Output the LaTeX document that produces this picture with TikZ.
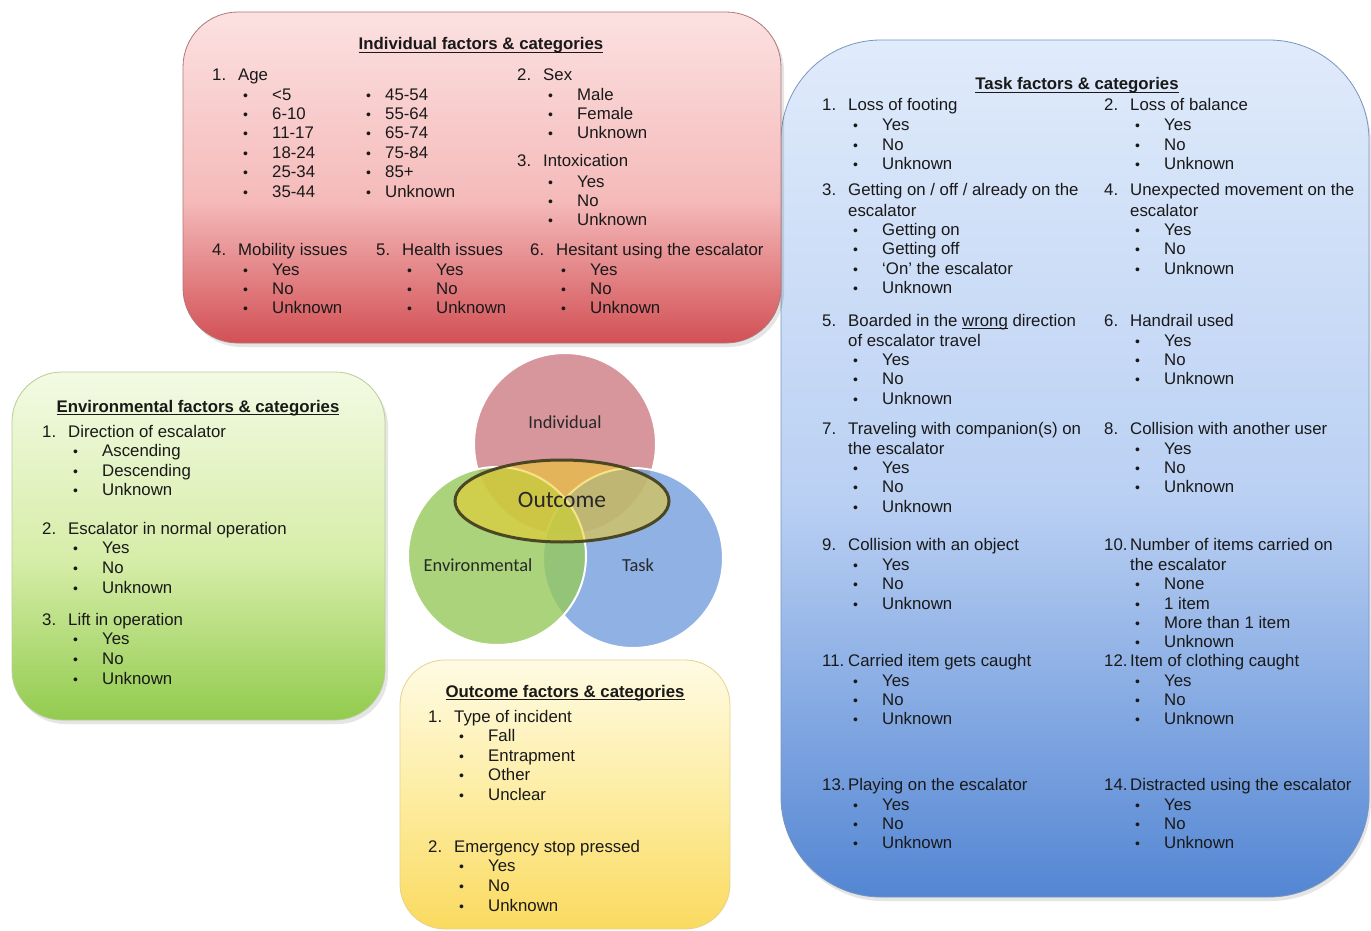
\documentclass[tikz,border=0pt]{standalone}
\usepackage{fontspec}
\setmainfont{Liberation Sans}
\newfontfamily\vennfont{Carlito}
\definecolor{txtc}{RGB}{25,25,25}
\definecolor{rT}{RGB}{252,225,225}
\definecolor{rM}{RGB}{245,186,186}
\definecolor{rB}{RGB}{210,80,85}
\definecolor{rL}{RGB}{175,120,120}
\definecolor{bT}{RGB}{224,235,251}
\definecolor{bM}{RGB}{186,208,243}
\definecolor{bB}{RGB}{84,134,211}
\definecolor{bL}{RGB}{120,150,190}
\definecolor{gT}{RGB}{243,250,228}
\definecolor{gM}{RGB}{214,237,168}
\definecolor{gB}{RGB}{146,203,78}
\definecolor{gL}{RGB}{185,205,150}
\definecolor{yT}{RGB}{255,251,228}
\definecolor{yM}{RGB}{253,236,160}
\definecolor{yB}{RGB}{250,218,95}
\definecolor{yL}{RGB}{230,210,140}
\definecolor{vI}{RGB}{205,124,130}
\definecolor{vE}{RGB}{149,201,92}
\definecolor{vT}{RGB}{115,158,220}
\definecolor{vO}{RGB}{240,205,40}
\definecolor{vOl}{RGB}{75,70,35}
\definecolor{vtx}{RGB}{40,40,40}
\newcommand\fs{\fontsize{16.8}{19.3}\selectfont}
\newcommand\bul{{\fontsize{14}{14}\selectfont\textbullet}}
\newcommand\ul[1]{\setbox0\hbox{#1}\rlap{\rule[-2.6pt]{\wd0}{0.9pt}}\box0\relax}
\newcounter{tn}
\newcommand\T[3]{\stepcounter{tn}\node[txt] (t\arabic{tn}) at (#1,#2+6) {#3};}
\newcommand\G[4]{\T{#1}{#2}{#3}\T{#1+26}{#2}{#4}}
\newcommand\B[3]{\T{#1+31}{#2}{\bul}\T{#1+60}{#2}{#3}}
\tikzset{
  txt/.style={anchor=base west, inner sep=0pt, font=\fs, text=txtc},
  ttl/.style={anchor=base, inner sep=0pt, font=\fs\bfseries, text=txtc},
  vlab/.style={inner sep=0pt, font=\vennfont\fontsize{18.4}{20}\selectfont, text=vtx},
  shadow/.style={fill=black, opacity=0.10},
}
\begin{document}
\begin{tikzpicture}[x=1pt,y=-1pt]
\useasboundingbox (0,0) rectangle (1371,931);
\fill[white] (0,0) rectangle (1371,931);

% ---------- Task box (blue)
\fill[shadow, rounded corners=100pt] (783,44) rectangle (1371,901);
\begin{scope}
  \clip[rounded corners=100pt] (781,40) rectangle (1369,897);
  \shade[top color=bT, bottom color=bM] (781,40) rectangle (1369,501);
  \shade[top color=bM, bottom color=bB] (781,500) rectangle (1369,897);
\end{scope}
\draw[bL, line width=0.8pt, rounded corners=100pt] (781,40) rectangle (1369,897);

% ---------- Individual box (red)
\fill[shadow, rounded corners=55pt] (186,16) rectangle (784,347);
\begin{scope}
  \clip[rounded corners=55pt] (183,12) rectangle (781,343);
  \shade[top color=rT, bottom color=rM] (183,12) rectangle (781,201);
  \shade[top color=rM, bottom color=rB] (183,200) rectangle (781,343);
\end{scope}
\draw[rL, line width=0.8pt, rounded corners=55pt] (183,12) rectangle (781,343);

% ---------- Environmental box (green)
\fill[shadow, rounded corners=50pt] (15,376) rectangle (388,724);
\begin{scope}
  \clip[rounded corners=50pt] (12,372) rectangle (385,720);
  \shade[top color=gT, bottom color=gM] (12,372) rectangle (385,561);
  \shade[top color=gM, bottom color=gB] (12,560) rectangle (385,720);
\end{scope}
\draw[gL, line width=0.8pt, rounded corners=50pt] (12,372) rectangle (385,720);

% ---------- Outcome box (yellow)
\begin{scope}
  \clip[rounded corners=45pt] (400,660) rectangle (730,929);
  \shade[top color=yT, bottom color=yM] (400,660) rectangle (730,801);
  \shade[top color=yM, bottom color=yB] (400,800) rectangle (730,929);
\end{scope}
\draw[yL, line width=0.8pt, rounded corners=45pt] (400,660) rectangle (730,929);

% ---------- Venn diagram
\fill[vI, fill opacity=0.8] (565,444) circle[radius=91pt];
\draw[white, line width=2pt] (565,444) circle[radius=91pt];
\fill[vT, fill opacity=0.8] (633,558) circle[radius=90pt];
\draw[white, line width=2pt] (633,558) circle[radius=90pt];
\fill[vE, fill opacity=0.8] (497,556) circle[radius=89pt];
\draw[white, line width=2pt] (497,556) circle[radius=89pt];
\fill[vO, fill opacity=0.55] (562,501) ellipse[x radius=107pt, y radius=41pt];
\draw[vOl, line width=3pt] (562,501) ellipse[x radius=107pt, y radius=41pt];
\node[vlab] (vInd) at (565,422) {Individual};
\node[vlab] (vEnv) at (478,565) {Environmental};
\node[vlab] (vTask) at (638,565) {Task};
\node[vlab, font=\vennfont\fontsize{23.5}{25}\selectfont] (vOut) at (562,500) {Outcome};

% ---------- Individual text
\node[ttl] (ttlI) at (481,50) {\ul{Individual factors \& categories}};
\G{212}{75}{1.}{Age}
\B{212}{95}{<5}
\B{212}{114}{6-10}
\B{212}{133}{11-17}
\B{212}{153}{18-24}
\B{212}{172}{25-34}
\B{212}{191}{35-44}
\T{366}{95}{\bul}\T{385}{95}{45-54}
\T{366}{114}{\bul}\T{385}{114}{55-64}
\T{366}{133}{\bul}\T{385}{133}{65-74}
\T{366}{153}{\bul}\T{385}{153}{75-84}
\T{366}{172}{\bul}\T{385}{172}{85+}
\T{366}{191}{\bul}\T{385}{191}{Unknown}
\G{517}{75}{2.}{Sex}
\B{517}{95}{Male}
\B{517}{114}{Female}
\B{517}{133}{Unknown}
\G{517}{161}{3.}{Intoxication}
\B{517}{181}{Yes}
\B{517}{200}{No}
\B{517}{219}{Unknown}
\G{212}{249}{4.}{Mobility issues}
\B{212}{269}{Yes}
\B{212}{288}{No}
\B{212}{307}{Unknown}
\G{376}{249}{5.}{Health issues}
\B{376}{269}{Yes}
\B{376}{288}{No}
\B{376}{307}{Unknown}
\G{530}{249}{6.}{Hesitant using the escalator}
\B{530}{269}{Yes}
\B{530}{288}{No}
\B{530}{307}{Unknown}

% ---------- Task text
\node[ttl] (ttlT) at (1077,90) {\ul{Task factors \& categories}};
\G{822}{105}{1.}{Loss of footing}
\B{822}{125}{Yes}
\B{822}{144}{No}
\B{822}{163}{Unknown}
\G{1104}{105}{2.}{Loss of balance}
\B{1104}{125}{Yes}
\B{1104}{144}{No}
\B{1104}{163}{Unknown}
\G{822}{190}{3.}{Getting on / off / already on the}
\T{848}{210}{escalator}
\B{822}{229}{Getting on}
\B{822}{248}{Getting off}
\B{822}{268}{‘On’ the escalator}
\B{822}{287}{Unknown}
\G{1104}{190}{4.}{Unexpected movement on the}
\T{1130}{210}{escalator}
\B{1104}{229}{Yes}
\B{1104}{248}{No}
\B{1104}{268}{Unknown}
\G{822}{320}{5.}{Boarded in the \ul{wrong} direction}
\T{848}{340}{of escalator travel}
\B{822}{359}{Yes}
\B{822}{378}{No}
\B{822}{398}{Unknown}
\G{1104}{320}{6.}{Handrail used}
\B{1104}{340}{Yes}
\B{1104}{359}{No}
\B{1104}{378}{Unknown}
\G{822}{428}{7.}{Traveling with companion(s) on}
\T{848}{448}{the escalator}
\B{822}{467}{Yes}
\B{822}{486}{No}
\B{822}{506}{Unknown}
\G{1104}{428}{8.}{Collision with another user}
\B{1104}{448}{Yes}
\B{1104}{467}{No}
\B{1104}{486}{Unknown}
\G{822}{544}{9.}{Collision with an object}
\B{822}{564}{Yes}
\B{822}{583}{No}
\B{822}{603}{Unknown}
\G{1104}{544}{10.}{Number of items carried on}
\T{1130}{564}{the escalator}
\B{1104}{583}{None}
\B{1104}{603}{1 item}
\B{1104}{622}{More than 1 item}
\B{1104}{641}{Unknown}
\G{822}{660}{11.}{Carried item gets caught}
\B{822}{680}{Yes}
\B{822}{699}{No}
\B{822}{718}{Unknown}
\G{1104}{660}{12.}{Item of clothing caught}
\B{1104}{680}{Yes}
\B{1104}{699}{No}
\B{1104}{718}{Unknown}
\G{822}{784}{13.}{Playing on the escalator}
\B{822}{804}{Yes}
\B{822}{823}{No}
\B{822}{842}{Unknown}
\G{1104}{784}{14.}{Distracted using the escalator}
\B{1104}{804}{Yes}
\B{1104}{823}{No}
\B{1104}{842}{Unknown}

% ---------- Environmental text
\node[ttl] (ttlE) at (198,412) {\ul{Environmental factors \& categories}};
\G{42}{431}{1.}{Direction of escalator}
\B{42}{450}{Ascending}
\B{42}{470}{Descending}
\B{42}{489}{Unknown}
\G{42}{528}{2.}{Escalator in normal operation}
\B{42}{547}{Yes}
\B{42}{567}{No}
\B{42}{587}{Unknown}
\G{42}{619}{3.}{Lift in operation}
\B{42}{638}{Yes}
\B{42}{658}{No}
\B{42}{678}{Unknown}

% ---------- Outcome text
\node[ttl] (ttlO) at (565,697) {\ul{Outcome factors \& categories}};
\G{428}{716}{1.}{Type of incident}
\B{428}{735}{Fall}
\B{428}{755}{Entrapment}
\B{428}{774}{Other}
\B{428}{794}{Unclear}
\G{428}{846}{2.}{Emergency stop pressed}
\B{428}{865}{Yes}
\B{428}{885}{No}
\B{428}{905}{Unknown}
\end{tikzpicture}
\end{document}
